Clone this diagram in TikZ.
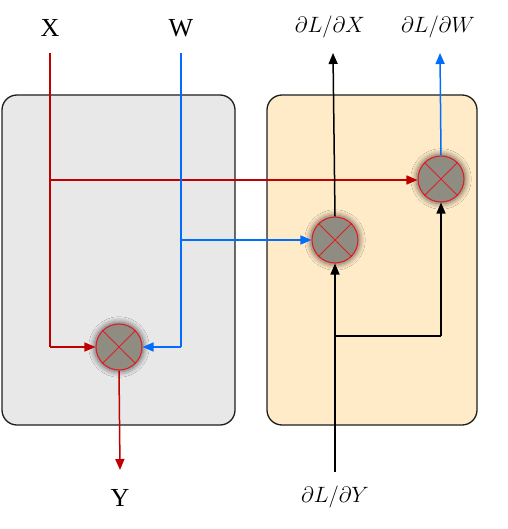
\documentclass[tikz,border=0pt]{standalone}
\usepackage{fontspec}
\setmainfont{Liberation Serif}
\usetikzlibrary{arrows.meta,shadows.blur}
\definecolor{lred}{RGB}{192,0,0}
\definecolor{lblue}{RGB}{0,110,250}
\definecolor{cred}{RGB}{220,30,40}
\definecolor{cgray}{RGB}{143,141,130}
\definecolor{lboxfill}{RGB}{232,232,232}
\definecolor{rboxfill}{RGB}{255,235,200}
\definecolor{edge}{RGB}{30,30,30}
\newcommand{\mlab}[1]{\scalebox{1.07}{$#1$}}
\tikzset{
  panel/.style={draw=edge, line width=1.3pt, rounded corners=15pt},
  mult/.style={circle, draw=cred, line width=1.1pt, fill=cgray, minimum size=46pt, inner sep=0pt,
    blur shadow={shadow xshift=0pt, shadow yshift=0pt, shadow blur radius=5pt, shadow blur steps=14, shadow opacity=55, shadow scale=1.08}},
  crossline/.style={draw=cred, line width=1pt},
  wire/.style={line width=1.5pt, -{Triangle[length=11pt,width=9pt]}},
  plainwire/.style={line width=1.5pt},
  lbl/.style={font=\fontsize{26}{28}\selectfont, inner sep=0pt},
  mlbl/.style={font=\fontsize{20.74}{24}\selectfont, inner sep=0pt}
}
\begin{document}
\begin{tikzpicture}[x=1pt,y=-1pt]
\useasboundingbox (0,0) rectangle (507,529);
% panels
\node[panel, fill=lboxfill, minimum width=233pt, minimum height=330pt, inner sep=0pt] (lp) at (118.5,260) {};
\node[panel, fill=rboxfill, minimum width=210pt, minimum height=330pt, inner sep=0pt] (rp) at (372,260) {};
% labels
\node[lbl] (x) at (50,28) {X};
\node[lbl] (w) at (181,28) {W};
\node[lbl] (y) at (120,498) {Y};
\node[mlbl] (dx) at (330,27) {\mlab{\partial L/\partial X}};
\node[mlbl] (dw) at (438,27) {\mlab{\partial L/\partial W}};
\node[mlbl] (dy) at (335,497) {\mlab{\partial L/\partial Y}};
% coordinates
\coordinate (xs) at (50,53);
\coordinate (xc) at (50,347);
\coordinate (xb) at (50,180);
\coordinate (ws) at (181,53);
\coordinate (wc) at (181,347);
\coordinate (wb) at (181,240);
\coordinate (ye) at (120,470);
\coordinate (dys) at (335,472);
\coordinate (dyb) at (335,336);
\coordinate (dyc) at (441,336);
\coordinate (dxe) at (333,53);
\coordinate (dwe) at (440,53);
% multipliers
\node[mult] (m1) at (119,347) {};
\node[mult] (m2) at (335,240) {};
\node[mult] (m3) at (441,179) {};
\foreach \m in {m1,m2,m3}{
  \draw[crossline] (\m.north west) -- (\m.south east);
  \draw[crossline] (\m.north east) -- (\m.south west);
}
% X wires
\draw[plainwire, lred] (xs) -- (xc);
\draw[wire, lred] (xc) -- (m1.west);
\draw[wire, lred] (xb) -- (xb -| m3.west);
% W wires
\draw[plainwire, lblue] (ws) -- (wc);
\draw[wire, lblue] (wc) -- (m1.east);
\draw[wire, lblue] (wb) -- (m2.west);
% Y out
\draw[wire, lred] (m1.south) -- (ye);
% dL/dY
\draw[wire, black] (dys) -- (m2.south);
\draw[plainwire, black] (dyb) -- (dyc);
\draw[wire, black] (dyc) -- (m3.south);
% outputs
\draw[wire, black] (m2.north) -- (dxe);
\draw[wire, lblue] (m3.north) -- (dwe);
\end{tikzpicture}
\end{document}
